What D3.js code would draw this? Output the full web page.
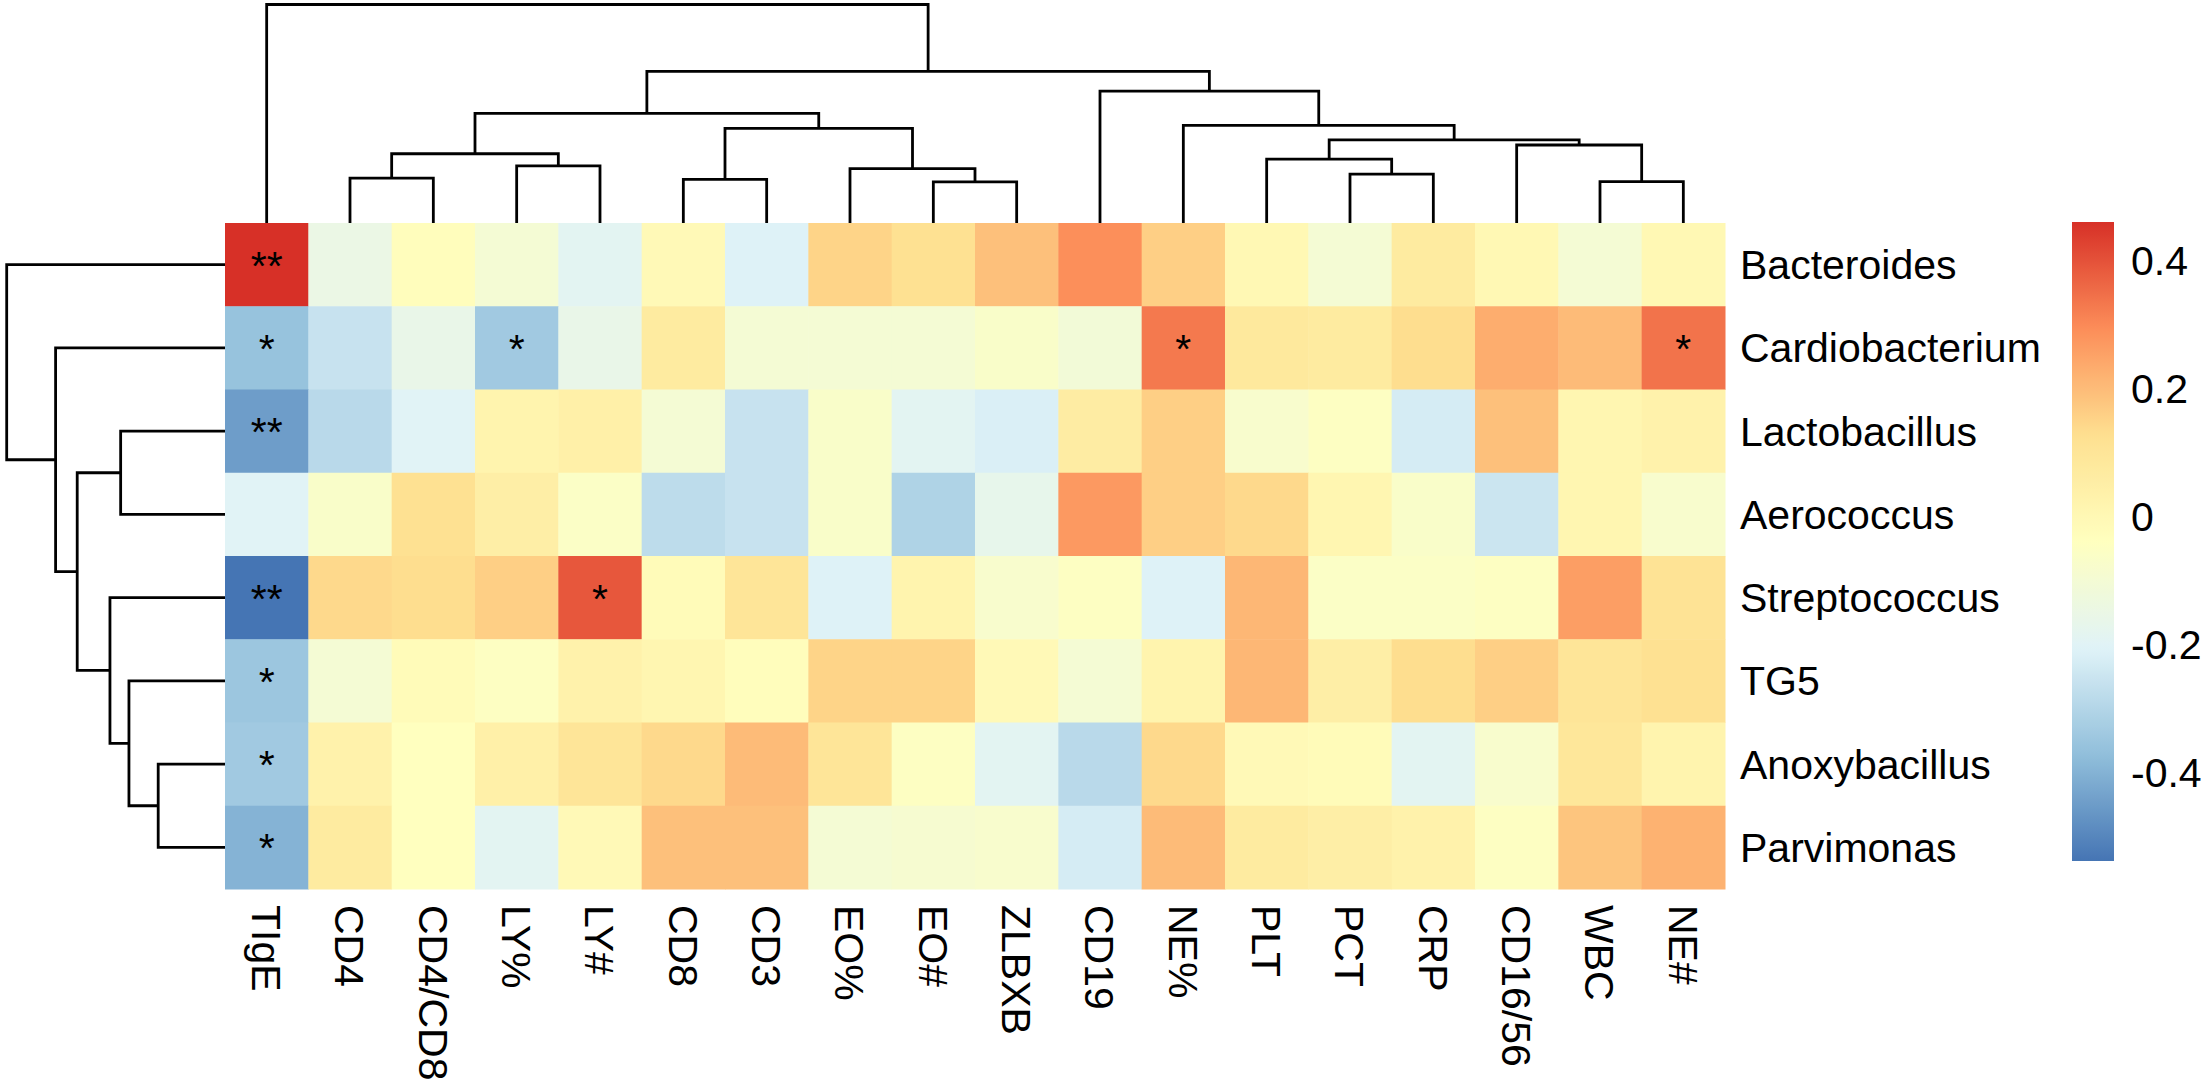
<!DOCTYPE html>
<html>
<head>
<meta charset="utf-8">
<script src="https://cdn.jsdelivr.net/npm/d3@7"></script>
<style>
  body { margin: 0; background: #fff; }
  svg text { font-family: "Liberation Sans", Arial, Helvetica, sans-serif; fill: #000; }
</style>
</head>
<body>
<div id="chart"></div>
<script>
// --------------------------------------
//  Data
// --------------------------------------

const genera = ["Bacteroides", "Cardiobacterium", "Lactobacillus", "Aerococcus",
  "Streptococcus", "TG5", "Anoxybacillus", "Parvimonas"];

const markers = ["TIgE", "CD4", "CD4/CD8", "LY%", "LY#", "CD8", "CD3", "EO%", "EO#",
  "ZLBXB", "CD19", "NE%", "PLT", "PCT", "CRP", "CD16/56", "WBC", "NE#"];

// correlation, one array per genus, in marker order
const corr = [
  [ 0.46, -0.15, -0.03, -0.10, -0.19, -0.01, -0.21,  0.15,  0.12,  0.19,  0.29,  0.16,  0.00, -0.10,  0.07,  0.00, -0.10,  0.00],
  [-0.36, -0.26, -0.16, -0.34, -0.16,  0.07, -0.10, -0.10, -0.10, -0.07, -0.11,  0.33,  0.08,  0.07,  0.13,  0.23,  0.20,  0.34],
  [-0.45, -0.29, -0.20,  0.02,  0.04, -0.10, -0.26, -0.07, -0.19, -0.22,  0.06,  0.16, -0.08, -0.05, -0.23,  0.19,  0.01,  0.03],
  [-0.20, -0.07,  0.12,  0.05, -0.06, -0.28, -0.26, -0.07, -0.31, -0.17,  0.27,  0.16,  0.14,  0.01, -0.07, -0.25,  0.01, -0.08],
  [-0.54,  0.14,  0.13,  0.16,  0.39, -0.02,  0.10, -0.21,  0.02, -0.08, -0.05, -0.21,  0.21, -0.06, -0.06, -0.05,  0.26,  0.11],
  [-0.35, -0.10, -0.02, -0.05,  0.03,  0.01, -0.03,  0.15,  0.15, -0.01, -0.10,  0.02,  0.21,  0.05,  0.13,  0.16,  0.10,  0.12],
  [-0.34,  0.03, -0.04,  0.04,  0.10,  0.14,  0.20,  0.10, -0.05, -0.19, -0.29,  0.14, -0.01, -0.02, -0.19, -0.08,  0.09,  0.02],
  [-0.40,  0.07, -0.04, -0.19, -0.01,  0.19,  0.19, -0.10, -0.09, -0.08, -0.23,  0.20,  0.07,  0.05,  0.03, -0.05,  0.18,  0.22]
];

// significance marks, same shape as corr
const stars = [
  ["**", "", "", "",  "",  "", "", "", "", "", "", "",  "", "", "", "", "", ""],
  ["*",  "", "", "*", "",  "", "", "", "", "", "", "*", "", "", "", "", "", "*"],
  ["**", "", "", "",  "",  "", "", "", "", "", "", "",  "", "", "", "", "", ""],
  ["",   "", "", "",  "",  "", "", "", "", "", "", "",  "", "", "", "", "", ""],
  ["**", "", "", "",  "*", "", "", "", "", "", "", "",  "", "", "", "", "", ""],
  ["*",  "", "", "",  "",  "", "", "", "", "", "", "",  "", "", "", "", "", ""],
  ["*",  "", "", "",  "",  "", "", "", "", "", "", "",  "", "", "", "", "", ""],
  ["*",  "", "", "",  "",  "", "", "", "", "", "", "",  "", "", "", "", "", ""]
];

// hclust style merges: name = leaf, number = earlier merge (1-based), then height
const colMerges = [
  ["CD4", "CD4/CD8", 0.205],
  ["LY%", "LY#", 0.261],
  [1, 2, 0.317],
  ["CD8", "CD3", 0.200],
  ["EO#", "ZLBXB", 0.188],
  ["EO%", 5, 0.249],
  [4, 6, 0.433],
  [3, 7, 0.502],
  ["PCT", "CRP", 0.224],
  ["PLT", 9, 0.292],
  ["WBC", "NE#", 0.189],
  ["CD16/56", 11, 0.357],
  [10, 12, 0.380],
  ["NE%", 13, 0.447],
  ["CD19", 14, 0.604],
  [8, 15, 0.694],
  ["TIgE", 16, 1.000]
];

const rowMerges = [
  ["Anoxybacillus", "Parvimonas", 0.306],
  ["TG5", 1, 0.440],
  ["Streptococcus", 2, 0.527],
  ["Lactobacillus", "Aerococcus", 0.478],
  [4, 3, 0.677],
  ["Cardiobacterium", 5, 0.776],
  ["Bacteroides", 6, 1.000]
];

const legendTicks = [-0.4, -0.2, 0, 0.2, 0.4];

const palette = ["#4575B4", "#91BFDB", "#E0F3F8", "#FFFFBF", "#FEE090", "#FC8D59", "#D73027"];

// --------------------------------------
//  Canvas
// --------------------------------------

const width = 2207;
const height = 1083;
const heat = {left: 225, top: 223, right: 1725, bottom: 889};
const fontSize = 41;

const svg = d3.select("#chart")
  .append("svg")
    .attr("width", width)
    .attr("height", height)
    .attr("viewBox", `0 0 ${width} ${height}`);

svg.append("rect")
    .attr("width", width)
    .attr("height", height)
    .attr("fill", "#fff");

// --------------------------------------
//  Scales
// --------------------------------------

const x = d3.scaleBand()
    .domain(markers)
    .range([heat.left, heat.right]);

const y = d3.scaleBand()
    .domain(genera)
    .range([heat.top, heat.bottom]);

const allValues = corr.flat();
const vmin = d3.min(allValues);
const vmax = d3.max(allValues);

const color = d3.scaleLinear()
    .domain(d3.range(palette.length).map(i => vmin + i * (vmax - vmin) / (palette.length - 1)))
    .range(palette)
    .interpolate(d3.interpolateRgb);

// dendrogram height -> pixels
const colH = d3.scaleLinear().domain([0, 1]).range([heat.top, 4.5]);
const rowH = d3.scaleLinear().domain([0, 1]).range([heat.left, 6.7]);

// --------------------------------------
//  Heatmap cells
// --------------------------------------

const cells = [];
genera.forEach((g, i) => markers.forEach((m, j) => {
  cells.push({genus: g, marker: m, value: corr[i][j], star: stars[i][j]});
}));

svg.append("g")
  .selectAll("rect")
  .data(cells)
  .join("rect")
    .attr("x", d => x(d.marker))
    .attr("y", d => y(d.genus))
    .attr("width", x.bandwidth() + 0.5)
    .attr("height", y.bandwidth() + 0.5)
    .attr("fill", d => color(d.value));

svg.append("g")
  .selectAll("text")
  .data(cells.filter(d => d.star))
  .join("text")
    .attr("x", d => x(d.marker) + x.bandwidth() / 2)
    .attr("y", d => y(d.genus) + y.bandwidth() / 2 + 15)
    .attr("text-anchor", "middle")
    .attr("font-size", fontSize)
    .text(d => d.star);

// --------------------------------------
//  Dendrograms
// --------------------------------------

function buildTree(merges) {
  const nodes = [];
  const ref = r => typeof r === "string" ? {name: r, height: 0} : nodes[r - 1];
  merges.forEach(([a, b, h]) => nodes.push({height: h, children: [ref(a), ref(b)]}));
  return d3.hierarchy(nodes[nodes.length - 1]);
}

const colTree = buildTree(colMerges);
colTree.eachAfter(n => {
  n.pos = n.children
    ? (n.children[0].pos + n.children[1].pos) / 2
    : x(n.data.name) + x.bandwidth() / 2;
});

const rowTree = buildTree(rowMerges);
rowTree.eachAfter(n => {
  n.pos = n.children
    ? (n.children[0].pos + n.children[1].pos) / 2
    : y(n.data.name) + y.bandwidth() / 2;
});

svg.append("g")
  .selectAll("path")
  .data(colTree.descendants().filter(n => n.children))
  .join("path")
    .attr("d", n => {
      const [a, b] = n.children;
      return `M${a.pos},${colH(a.data.height)}V${colH(n.data.height)}H${b.pos}V${colH(b.data.height)}`;
    })
    .attr("fill", "none")
    .attr("stroke", "#000")
    .attr("stroke-width", 2.8);

svg.append("g")
  .selectAll("path")
  .data(rowTree.descendants().filter(n => n.children))
  .join("path")
    .attr("d", n => {
      const [a, b] = n.children;
      return `M${rowH(a.data.height)},${a.pos}H${rowH(n.data.height)}V${b.pos}H${rowH(b.data.height)}`;
    })
    .attr("fill", "none")
    .attr("stroke", "#000")
    .attr("stroke-width", 2.8);

// --------------------------------------
//  Axes (labels)
// --------------------------------------

svg.append("g")
    .attr("transform", `translate(${heat.right}, 0)`)
    .call(d3.axisRight(y).tickSize(0).tickPadding(15))
    .call(g => g.select(".domain").remove())
    .call(g => g.selectAll("text")
        .attr("font-size", fontSize)
        .attr("dy", "0.356em"));

svg.append("g")
    .attr("transform", `translate(0, ${heat.bottom})`)
    .call(d3.axisBottom(x).tickSize(0))
    .call(g => g.select(".domain").remove())
    .call(g => g.selectAll("text")
        .attr("font-size", fontSize)
        .attr("text-anchor", "start")
        .attr("transform", "rotate(90)")
        .attr("x", 16)
        .attr("y", 0)
        .attr("dy", "0.356em"));

// --------------------------------------
//  Colour legend
// --------------------------------------

const legend = {left: 2072, width: 42, top: 222, bottom: 861};

const legendY = d3.scaleLinear()
    .domain([vmin, vmax])
    .range([legend.bottom, legend.top]);

const grad = svg.append("defs")
  .append("linearGradient")
    .attr("id", "legend-grad")
    .attr("x1", 0).attr("y1", 1)
    .attr("x2", 0).attr("y2", 0);

grad.selectAll("stop")
  .data(d3.range(0, 1.0001, 0.01))
  .join("stop")
    .attr("offset", t => t)
    .attr("stop-color", t => color(vmin + t * (vmax - vmin)));

svg.append("rect")
    .attr("x", legend.left)
    .attr("y", legend.top)
    .attr("width", legend.width)
    .attr("height", legend.bottom - legend.top)
    .attr("fill", "url(#legend-grad)");

svg.append("g")
    .attr("transform", `translate(${legend.left + legend.width}, 0)`)
    .call(d3.axisRight(legendY)
        .tickValues(legendTicks)
        .tickSize(0)
        .tickPadding(17)
        .tickFormat(d => String(d)))
    .call(g => g.select(".domain").remove())
    .call(g => g.selectAll("text")
        .attr("font-size", fontSize)
        .attr("dy", "0.356em"));
</script>
</body>
</html>
